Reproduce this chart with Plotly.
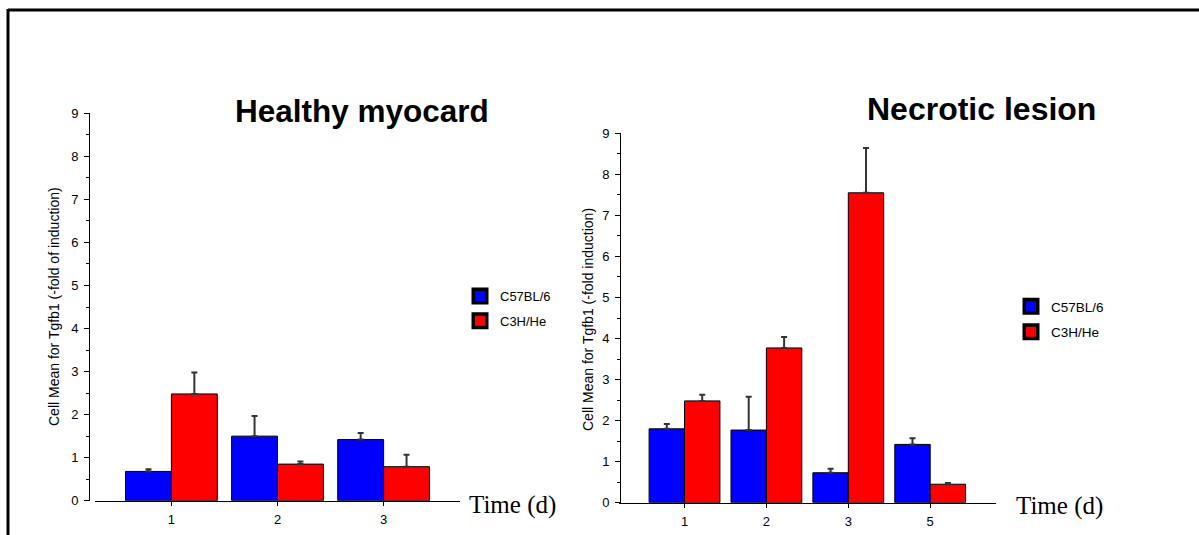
import plotly.graph_objects as go

W, H = 1199, 535

# ---------------- data ----------------
days_healthy = ["1", "2", "3"]
healthy_c57 = [0.68, 1.50, 1.42]
healthy_c57_err = [0.05, 0.47, 0.15]
healthy_c3h = [2.48, 0.85, 0.79]
healthy_c3h_err = [0.50, 0.06, 0.28]

days_necrotic = ["1", "2", "3", "5"]
necrotic_c57 = [1.80, 1.77, 0.73, 1.42]
necrotic_c57_err = [0.12, 0.81, 0.10, 0.15]
necrotic_c3h = [2.48, 3.77, 7.55, 0.45]
necrotic_c3h_err = [0.15, 0.27, 1.09, 0.03]

series_names = ["C57BL/6", "C3H/He"]
series_colors = ["#0000ff", "#ff0000"]
y_ticks = list(range(0, 10))

# the drawing area observed in the viewer: top offset 8 px, height 520 px
TOP, HEFF = 8, 520


def px(x):
    return x / W


def py(y):
    return 1 - (y - TOP) / HEFF


FONT = "Arial, Liberation Sans, sans-serif"
SERIF = "Times New Roman, Liberation Serif, serif"

fig = go.Figure()


def add_bars(days, vals, errs, name, color, xa, ya):
    fig.add_trace(go.Bar(
        x=days, y=vals, name=name, xaxis=xa, yaxis=ya,
        marker=dict(color=color, line=dict(color="black", width=1)),
        error_y=dict(type="data", array=errs, symmetric=False,
                     arrayminus=[0] * len(errs), color="#333333",
                     thickness=2, width=3),
        showlegend=False,
    ))


add_bars(days_healthy, healthy_c57, healthy_c57_err, series_names[0], series_colors[0], "x", "y")
add_bars(days_healthy, healthy_c3h, healthy_c3h_err, series_names[1], series_colors[1], "x", "y")
add_bars(days_necrotic, necrotic_c57, necrotic_c57_err, series_names[0], series_colors[0], "x2", "y2")
add_bars(days_necrotic, necrotic_c3h, necrotic_c3h_err, series_names[1], series_colors[1], "x2", "y2")

# legend entries (square keys with heavy black border)
for lg, xa, ya in [("legend", "x", "y"), ("legend2", "x2", "y2")]:
    for nm, col in zip(series_names, series_colors):
        fig.add_trace(go.Scatter(
            x=[None], y=[None], mode="markers", name=nm, xaxis=xa, yaxis=ya,
            legend=lg, legendgroup=lg + nm,
            marker=dict(symbol="square", size=13.5, color=col,
                        line=dict(color="black", width=3.5)),
        ))

axis_common = dict(showline=True, linecolor="black", linewidth=1,
                   showgrid=False, zeroline=False, ticks="outside",
                   tickcolor="black", ticklabelstandoff=3,
                   tickfont=dict(family=FONT, size=13, color="black"))

fig.update_layout(
    width=W, height=H,
    margin=dict(l=0, r=0, t=0, b=0),
    paper_bgcolor="white", plot_bgcolor="white",
    barmode="group", bargap=0.135, bargroupgap=0,
    font=dict(family=FONT, color="black"),
    xaxis=dict(domain=[px(95), px(460)], type="category", range=[-0.72, 2.72],
               anchor="y", ticklen=4, **axis_common),
    yaxis=dict(domain=[py(501.7), py(114.3)], range=[0, 9], anchor="free",
               position=px(89), tickvals=y_ticks, ticklen=5,
               minor=dict(dtick=0.5, ticklen=3, ticks="outside", tickcolor="black"),
               **axis_common),
    xaxis2=dict(domain=[px(619), px(995.7)], type="category", range=[-0.8, 3.8],
                anchor="y2", ticklen=4, **axis_common),
    yaxis2=dict(domain=[py(503.7), py(134.3)], range=[0, 9], anchor="free",
                position=px(620), tickvals=y_ticks, ticklen=5,
                minor=dict(dtick=0.5, ticklen=3, ticks="outside", tickcolor="black"),
                **axis_common),
    legend=dict(x=px(460), y=py(282), xanchor="left", yanchor="top",
                font=dict(family=FONT, size=13, color="black"),
                bgcolor="rgba(0,0,0,0)", tracegroupgap=5),
    legend2=dict(x=px(1011), y=py(292), xanchor="left", yanchor="top",
                 font=dict(family=FONT, size=13.5, color="black"),
                 bgcolor="rgba(0,0,0,0)", tracegroupgap=5),
)

annotations = [
    dict(text="<b>Healthy myocard</b>", x=px(361.5), y=py(112), xref="paper", yref="paper",
         xanchor="center", yanchor="middle", showarrow=False,
         font=dict(family=FONT, size=31.5, color="black")),
    dict(text="<b>Necrotic lesion</b>", x=px(981.5), y=py(110), xref="paper", yref="paper",
         xanchor="center", yanchor="middle", showarrow=False,
         font=dict(family=FONT, size=32, color="black")),
    dict(text="Time (d)", x=px(467), y=py(506), xref="paper", yref="paper",
         xanchor="left", yanchor="middle", showarrow=False,
         font=dict(family=SERIF, size=25, color="black")),
    dict(text="Time (d)", x=px(1014), y=py(507), xref="paper", yref="paper",
         xanchor="left", yanchor="middle", showarrow=False,
         font=dict(family=SERIF, size=25, color="black")),
    dict(text="Cell Mean for Tgfb1 (-fold of induction)", x=px(54), y=py(308),
         xref="paper", yref="paper", textangle=-90, xanchor="center", yanchor="middle",
         showarrow=False, font=dict(family=FONT, size=14, color="black")),
    dict(text="Cell Mean for Tgfb1 (-fold induction)", x=px(588), y=py(321),
         xref="paper", yref="paper", textangle=-90, xanchor="center", yanchor="middle",
         showarrow=False, font=dict(family=FONT, size=14, color="black")),
]
fig.update_layout(annotations=annotations)

# outer frame (left and top edges of the border around the figure)
fig.add_shape(type="line", xref="paper", yref="paper", x0=px(8), x1=px(8),
              y0=-0.05, y1=py(10), line=dict(color="black", width=3))
fig.add_shape(type="line", xref="paper", yref="paper", x0=px(8), x1=1.01,
              y0=py(11), y1=py(11), line=dict(color="black", width=3))

fig.write_html("out.html")
